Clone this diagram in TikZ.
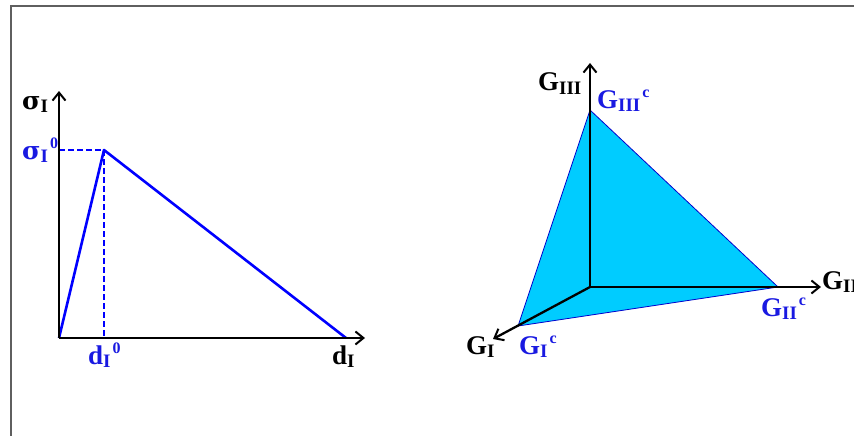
\documentclass[tikz,border=0pt]{standalone}
\usepackage{fontspec}
\setmainfont{Liberation Serif}
\newfontfamily\greekfont{DejaVu Serif}
\usetikzlibrary{arrows.meta, positioning}
\definecolor{labelblue}{RGB}{25, 25, 225}
\definecolor{lineblue}{RGB}{0, 0, 255}
\definecolor{planecyan}{RGB}{0, 204, 255}
\definecolor{framegray}{RGB}{95, 95, 95}
\newcommand{\lsub}[1]{\raisebox{-3pt}{\fontsize{19}{19}\selectfont #1}}
\newcommand{\lsup}[1]{\hspace{2pt}\raisebox{11pt}{\fontsize{16}{16}\selectfont #1}}
\newcommand{\sig}{{\greekfont\fontsize{25}{26}\selectfont σ}}

\begin{document}
\begin{tikzpicture}[x=1pt, y=-1pt,
  axis/.style={line width=2.3pt, -{Straight Barb[length=8pt, width=13pt, line width=2pt]}},
  lab/.style={font=\fontsize{27}{29}\selectfont\bfseries, inner sep=0pt, anchor=base west},
  blab/.style={lab, text=labelblue}]

  \useasboundingbox (0,0) rectangle (854,436);

  % 外框（只露出上边和左边）
  \draw[framegray, line width=1.5pt] (11,436) -- (11,6) -- (854,6);

  % 左图：sigma-d 关系
  \coordinate (Oleft) at (59,338);
  \coordinate (sigTip) at (59,91);
  \coordinate (dTip) at (365,338);
  \coordinate (peak) at (104,150);
  \coordinate (dEnd) at (346,338);
  \coordinate (sigZero) at (59,150);
  \coordinate (dZero) at (104,338);

  % 虚线投影
  \draw[lineblue, line width=1.8pt, dash pattern=on 6pt off 3pt] (sigZero) -- (peak) -- (dZero);
  % 双线性曲线
  \draw[lineblue, line width=2.6pt, line join=round] (Oleft) -- (peak) -- (dEnd);
  % 坐标轴
  \draw[axis] (Oleft) -- (sigTip);
  \draw[axis] (Oleft) -- (dTip);

  \node[lab] (sigLab) at (22,109) {\sig\lsub{I}};
  \node[blab] (sigZeroLab) at (22,159) {\sig\lsub{I}\lsup{0}};
  \node[blab] (dZeroLab) at (88,364) {d\lsub{I}\lsup{0}};
  \node[lab] (dLab) at (332,364) {d\lsub{I}};

  % 右图：能量释放率空间
  \coordinate (Oright) at (590,287);
  \coordinate (gThreeTip) at (590,63);
  \coordinate (gTwoTip) at (821,287);
  \coordinate (gOneTip) at (493,339);
  \coordinate (gThreeC) at (590,110);
  \coordinate (gTwoC) at (778,287);
  \coordinate (gOneC) at (518,326);

  % 断裂包络面
  \filldraw[fill=planecyan, draw=lineblue!80!black, line width=0.8pt, line join=round]
    (gThreeC) -- (gTwoC) -- (gOneC) -- cycle;
  % 坐标轴
  \draw[axis] (Oright) -- (gThreeTip);
  \draw[axis] (Oright) -- (gTwoTip);
  \draw[axis] (Oright) -- (gOneTip);

  \node[lab] (gThreeLab) at (538,91) {G\lsub{III}};
  \node[blab] (gThreeCLab) at (597,108) {G\lsub{III}\lsup{c}};
  \node[lab] (gTwoLab) at (822,289) {G\lsub{II}};
  \node[blab] (gTwoCLab) at (761,316) {G\lsub{II}\lsup{c}};
  \node[lab] (gOneLab) at (466,354) {G\lsub{I}};
  \node[blab] (gOneCLab) at (519,354) {G\lsub{I}\lsup{c}};

\end{tikzpicture}
\end{document}
